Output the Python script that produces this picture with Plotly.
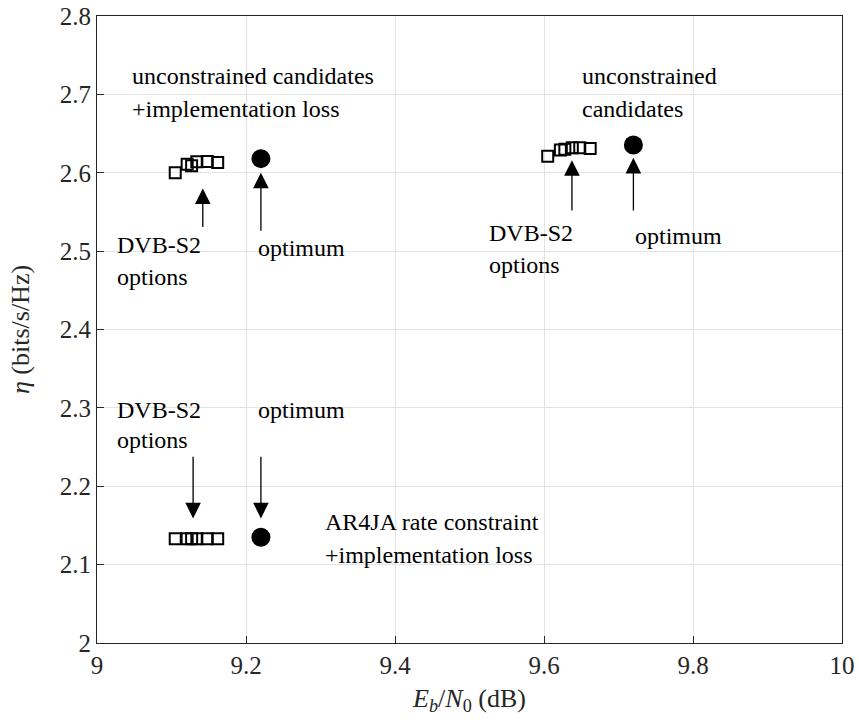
import plotly.graph_objects as go

# Eb/N0 (dB) and spectral efficiency (bits/s/Hz) of the operating points
dvb_unc_il_x = [9.105, 9.121, 9.127, 9.134, 9.148, 9.162]
dvb_unc_il_y = [2.600, 2.611, 2.609, 2.614, 2.6145, 2.613]
opt_unc_il_x = [9.22]
opt_unc_il_y = [2.618]

dvb_unc_x = [9.605, 9.622, 9.628, 9.638, 9.648, 9.662]
dvb_unc_y = [2.621, 2.629, 2.630, 2.632, 2.632, 2.631]
opt_unc_x = [9.72]
opt_unc_y = [2.6353]

dvb_ar4ja_x = [9.105, 9.121, 9.127, 9.134, 9.148, 9.162]
dvb_ar4ja_y = [2.133, 2.133, 2.133, 2.133, 2.133, 2.133]
opt_ar4ja_x = [9.22]
opt_ar4ja_y = [2.135]

x_ticks = [9, 9.2, 9.4, 9.6, 9.8, 10]
x_tick_text = ["9", "9.2", "9.4", "9.6", "9.8", "10"]
y_ticks = [2, 2.1, 2.2, 2.3, 2.4, 2.5, 2.6, 2.7, 2.8]
y_tick_text = ["2", "2.1", "2.2", "2.3", "2.4", "2.5", "2.6", "2.7", "2.8"]

# text labels: (x, y, text)
labels = [
    (9.044, 2.7234, "unconstrained candidates"),
    (9.044, 2.6815, "+implementation loss"),
    (9.6485, 2.7234, "unconstrained"),
    (9.6485, 2.6815, "candidates"),
    (9.024, 2.5077, "DVB-S2"),
    (9.024, 2.4668, "options"),
    (9.213, 2.504, "optimum"),
    (9.5236, 2.523, "DVB-S2"),
    (9.5236, 2.482, "options"),
    (9.7197, 2.519, "optimum"),
    (9.024, 2.297, "DVB-S2"),
    (9.024, 2.259, "options"),
    (9.213, 2.297, "optimum"),
    (9.3033, 2.154, "AR4JA rate constraint"),
    (9.3033, 2.112, "+implementation loss"),
]

# arrows: (tail x, tail y, head x, head y)
arrows = [
    (9.142, 2.529, 9.142, 2.580),
    (9.22, 2.524, 9.22, 2.600),
    (9.6375, 2.550, 9.6375, 2.616),
    (9.72, 2.550, 9.72, 2.619),
    (9.129, 2.2396, 9.129, 2.159),
    (9.22, 2.2396, 9.22, 2.159),
]

FONT = "Liberation Serif"
INK = "#262626"

fig = go.Figure()

square = dict(symbol="square-open", size=11, color="black", line=dict(width=2, color="black"))
dot = dict(symbol="circle", size=19, color="black")

for xs, ys, m in [
    (dvb_unc_il_x, dvb_unc_il_y, square),
    (opt_unc_il_x, opt_unc_il_y, dot),
    (dvb_unc_x, dvb_unc_y, square),
    (opt_unc_x, opt_unc_y, dot),
    (dvb_ar4ja_x, dvb_ar4ja_y, square),
    (opt_ar4ja_x, opt_ar4ja_y, dot),
]:
    fig.add_trace(go.Scatter(x=xs, y=ys, mode="markers", marker=m,
                             showlegend=False, hoverinfo="x+y"))

annotations = []
for x, y, t in labels:
    annotations.append(dict(x=x, y=y, xref="x", yref="y", text=t, showarrow=False,
                            xanchor="left", yanchor="middle",
                            font=dict(family=FONT, size=24, color="black")))
for tx, ty, hx, hy in arrows:
    annotations.append(dict(x=hx, y=hy, ax=tx, ay=ty, xref="x", yref="y",
                            axref="x", ayref="y", text="", showarrow=True,
                            arrowhead=2, arrowsize=2.4, arrowwidth=1.3,
                            arrowcolor="black", standoff=0))

axis_common = dict(
    showgrid=True, gridcolor="#e3e3e3", gridwidth=1,
    showline=True, linecolor=INK, linewidth=1, mirror=True,
    ticks="inside", ticklen=7, tickcolor=INK, tickwidth=1,
    tickfont=dict(family=FONT, size=25, color=INK),
    zeroline=False, automargin=False,
)

fig.update_layout(
    template="none",
    width=859, height=722,
    margin=dict(l=97, r=17, t=16, b=79),
    plot_bgcolor="white", paper_bgcolor="white",
    xaxis=dict(range=[9, 10], tickvals=x_ticks, ticktext=x_tick_text,
               title=dict(text="<i>E<sub>b</sub></i>/<i>N</i><sub>0</sub> (dB)",
                          font=dict(family=FONT, size=26, color=INK), standoff=10),
               **axis_common),
    yaxis=dict(range=[2, 2.8], tickvals=y_ticks, ticktext=y_tick_text,
               title=dict(text="<i>η</i> (bits/s/Hz)",
                          font=dict(family=FONT, size=26, color=INK), standoff=22),
               **axis_common),
    annotations=annotations,
)

fig.write_html("out.html")
